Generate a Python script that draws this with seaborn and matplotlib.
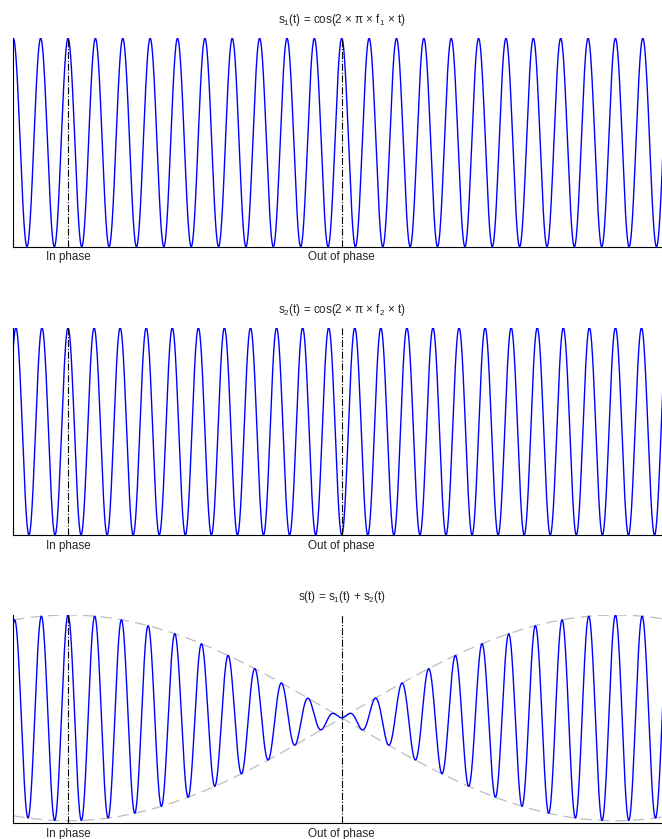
import numpy as np
import pandas as pd
import matplotlib
matplotlib.use("Agg")
import matplotlib.pyplot as plt
import seaborn as sns

# parametros de las dos senales
f1 = 1.0          # frecuencia s1 (1 periodo = unidad de tiempo)
f2 = 1.05         # frecuencia s2
t_in = 2.0        # instante "In phase"
t_out = 12.0      # instante "Out of phase"
t_end = 24.0      # fin del eje de tiempo
titles = [r"$\mathregular{s_1}$(t) = cos(2 × π × f$\mathregular{_1}$ × t)",
          r"$\mathregular{s_2}$(t) = cos(2 × π × f$\mathregular{_2}$ × t)",
          r"s(t) = $\mathregular{s_1}$(t) + $\mathregular{s_2}$(t)"]
marker_labels = ["In phase", "Out of phase"]

t = np.linspace(0, t_end, 6000)
s1 = np.cos(2 * np.pi * f1 * t)
s2 = np.cos(2 * np.pi * f2 * (t - t_in))
s = s1 + s2
env = 2 * np.cos(np.pi * (f2 - f1) * (t - t_in))

data = pd.DataFrame({"t": t, "s1": s1, "s2": s2, "s": s, "env_up": env, "env_dn": -env})

sns.set_style("white")
plt.rcParams["font.family"] = ["Liberation Sans", "DejaVu Sans"]
plt.rcParams["mathtext.fontset"] = "custom"
plt.rcParams["mathtext.rm"] = "Liberation Sans"

fig = plt.figure(figsize=(6.62, 8.39), dpi=100)
W, H = 662.0, 839.0
x0 = 13.3
x1 = x0 + 27.37 * t_end
# (top, bottom) de cada panel en pixeles
paneles = [(38.3, 246.7), (327.7, 535.0), (615.0, 823.3)]

axes = []
for top, bot in paneles:
    ax = fig.add_axes([x0 / W, (H - bot) / H, (x1 - x0) / W, (bot - top) / H])
    axes.append(ax)

cols = ["s1", "s2", "s"]
for i, ax in enumerate(axes):
    if i == 2:
        sns.lineplot(data=data, x="t", y="env_up", ax=ax, color="#bdbdbd", lw=0.9,
                     dashes=False, linestyle=(0, (9, 5)))
        sns.lineplot(data=data, x="t", y="env_dn", ax=ax, color="#bdbdbd", lw=0.9,
                     linestyle=(0, (9, 5)))
        ax.set_ylim(-2.05, 2.0)
    else:
        ax.set_ylim(-1, 1)
    sns.lineplot(data=data, x="t", y=cols[i], ax=ax, color="#0000ff", lw=1.0)
    for tv in [t_in, t_out]:
        ax.axvline(tv, color="black", lw=0.8, linestyle="-.")
    ax.set_xlim(0, t_end)
    ax.set_xticks([])
    ax.set_yticks([])
    ax.set_xlabel("")
    ax.set_ylabel("")
    sns.despine(ax=ax)
    for sp in ["left", "bottom"]:
        ax.spines[sp].set_color("black")
        ax.spines[sp].set_linewidth(0.8)
    for tv, lab in zip([t_in, t_out], marker_labels):
        ax.annotate(lab, xy=(tv, 0), xycoords=("data", "axes fraction"),
                    xytext=(0, -10.5), textcoords="offset pixels",
                    ha="center", va="center", fontsize=8.4)
    ax.annotate(titles[i], xy=(0.5, 1), xycoords="axes fraction",
                xytext=(0, 18), textcoords="offset pixels",
                ha="center", va="center", fontsize=8.4)

fig.savefig("out.png", dpi=100)
